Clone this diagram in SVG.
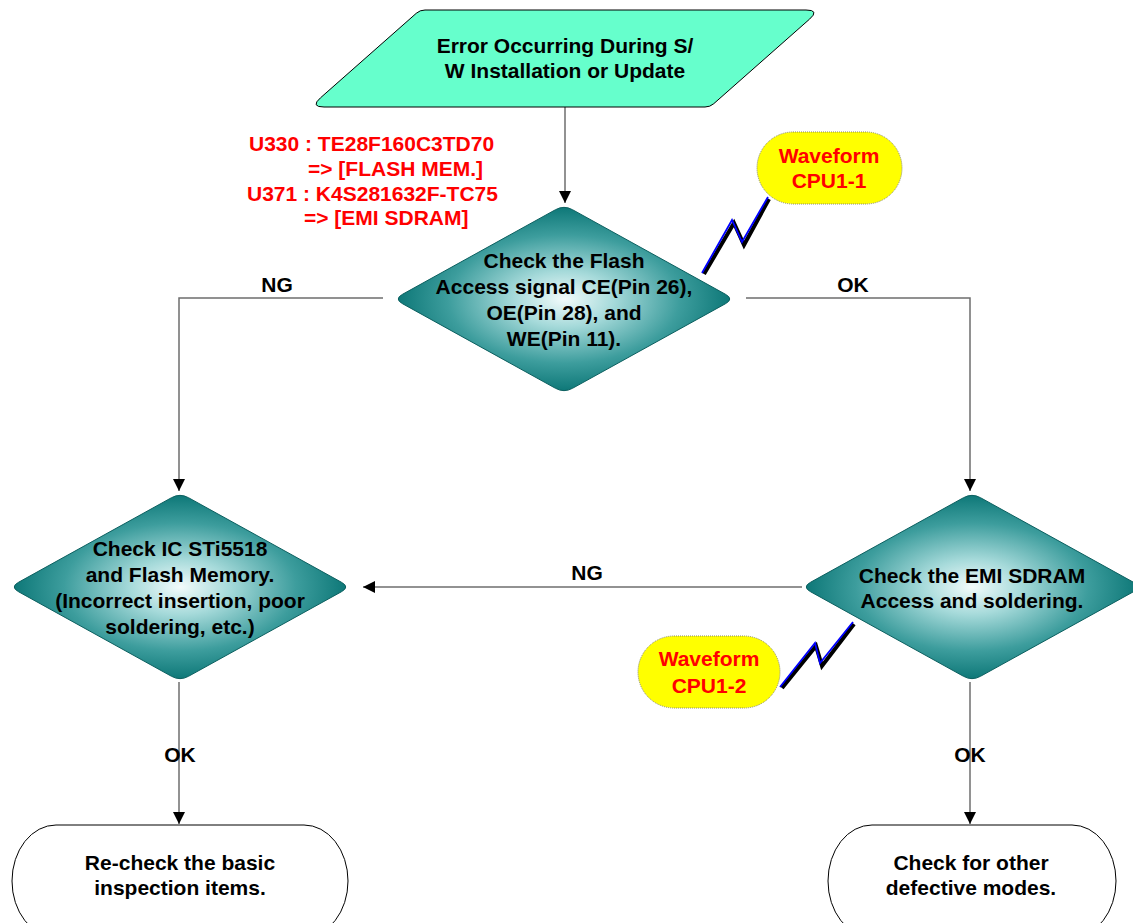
<svg xmlns="http://www.w3.org/2000/svg" width="1133" height="923" viewBox="0 0 1133 923">
  <defs>
    <radialGradient id="tealGlow" cx="50%" cy="50%" r="50%">
      <stop offset="0" stop-color="#f2fbfb"/>
      <stop offset="0.3" stop-color="#a6dada"/>
      <stop offset="0.7" stop-color="#3d9d9d"/>
      <stop offset="1" stop-color="#0e7878"/>
    </radialGradient>
    <marker id="arrowBig" viewBox="0 0 10 10" refX="10" refY="5" markerWidth="14" markerHeight="12" markerUnits="userSpaceOnUse" orient="auto">
      <path d="M0,0 L10,5 L0,10 Z" fill="#000"/>
    </marker>
  </defs>
  <style>
    .lbl { font-family: "Liberation Sans", Arial, sans-serif; font-weight: bold; font-size: 21px; fill: #000; text-anchor: middle; }
    .red { font-family: "Liberation Sans", Arial, sans-serif; font-weight: bold; font-size: 21px; fill: #ff0000; }
    .redc { text-anchor: middle; }
    .conn { fill: none; stroke: #6e6e6e; stroke-width: 1.5; }
    .diamond { fill: url(#tealGlow); stroke: #0b5f5f; stroke-width: 1; }
    .term { fill: #fff; stroke: #000; stroke-width: 1; }
    .bubble { fill: #ffff00; stroke: #8a8a60; stroke-width: 1; stroke-dasharray: 1 1; }
    .boltShadow { fill: none; stroke: #000; stroke-width: 4; stroke-linejoin: miter; }
    .bolt { fill: none; stroke: #0000ff; stroke-width: 1.8; stroke-linejoin: miter; }
  </style>

  <!-- connectors -->
  <g id="connectors">
    <path class="conn" d="M565,107 L565,203" marker-end="url(#arrowBig)"/>
    <path class="conn" d="M383,298 L179,298 L179,491" marker-end="url(#arrowBig)"/>
    <path class="conn" d="M746,298 L970,298 L970,491" marker-end="url(#arrowBig)"/>
    <path class="conn" d="M802,587 L363,587" marker-end="url(#arrowBig)"/>
    <path class="conn" d="M179,682 L179,824" marker-end="url(#arrowBig)"/>
    <path class="conn" d="M970,682 L970,824" marker-end="url(#arrowBig)"/>
    <text class="lbl" x="277" y="292">NG</text>
    <text class="lbl" x="853" y="292">OK</text>
    <text class="lbl" x="587" y="580">NG</text>
    <text class="lbl" x="180" y="762">OK</text>
    <text class="lbl" x="970" y="762">OK</text>
  </g>

  <!-- start: parallelogram -->
  <g id="start">
    <path d="M425,10 L806,10 Q820,10 809.5,19.2 L713.75,103.7 Q710,107 705,107 L324,107 Q310,107 320.5,97.8 L416.25,13.3 Q420,10 425,10 Z" fill="#66ffcc" stroke="#000" stroke-width="1"/>
    <text class="lbl" x="565" y="53">Error Occurring During S/</text>
    <text class="lbl" x="565" y="78">W Installation or Update</text>
  </g>

  <!-- part numbers note -->
  <g id="parts-note">
    <text class="red" x="249" y="151">U330 : TE28F160C3TD70</text>
    <text class="red" x="308" y="176">=&gt; [FLASH MEM.]</text>
    <text class="red" x="247" y="201">U371 : K4S281632F-TC75</text>
    <text class="red" x="304" y="225">=&gt; [EMI SDRAM]</text>
  </g>

  <!-- decision: flash access -->
  <g id="check-flash">
    <path class="diamond" d="M402.5,294.3 L555.5,209.7 Q564,205 572.5,209.7 L725.5,294.3 Q734,299 725.5,303.7 L572.5,388.3 Q564,393 555.5,388.3 L402.5,303.7 Q394,299 402.5,294.3 Z"/>
    <text class="lbl" x="564" y="268">Check the Flash</text>
    <text class="lbl" x="564" y="294">Access signal CE(Pin 26),</text>
    <text class="lbl" x="564" y="320">OE(Pin 28), and</text>
    <text class="lbl" x="564" y="346">WE(Pin 11).</text>
  </g>

  <!-- waveform callout CPU1-1 -->
  <g id="waveform-1">
    <polyline class="boltShadow" points="704,274 734,223 744,245 769,199"/>
    <polyline class="bolt" points="702,273 732,220 742,242 768,197"/>
    <rect class="bubble" x="757" y="132" width="145" height="72" rx="36" ry="36"/>
    <text class="red redc" x="829" y="163">Waveform</text>
    <text class="red redc" x="829" y="188">CPU1-1</text>
  </g>

  <!-- decision: IC / flash memory -->
  <g id="check-ic">
    <path class="diamond" d="M18.5,582.3 L171.5,497.7 Q180,493 188.5,497.7 L341.5,582.3 Q350,587 341.5,591.7 L188.5,676.3 Q180,681 171.5,676.3 L18.5,591.7 Q10,587 18.5,582.3 Z"/>
    <text class="lbl" x="180" y="556">Check IC STi5518</text>
    <text class="lbl" x="180" y="582">and Flash Memory.</text>
    <text class="lbl" x="180" y="608">(Incorrect insertion, poor</text>
    <text class="lbl" x="180" y="634">soldering, etc.)</text>
  </g>

  <!-- decision: EMI SDRAM -->
  <g id="check-sdram">
    <path class="diamond" d="M810.5,582.3 L963.5,497.7 Q972,493 980.5,497.7 L1133.5,582.3 Q1142,587 1133.5,591.7 L980.5,676.3 Q972,681 963.5,676.3 L810.5,591.7 Q802,587 810.5,582.3 Z"/>
    <text class="lbl" x="972" y="583">Check the EMI SDRAM</text>
    <text class="lbl" x="972" y="608">Access and soldering.</text>
  </g>

  <!-- waveform callout CPU1-2 -->
  <g id="waveform-2">
    <polyline class="boltShadow" points="782,688 816,646 822,666 854,624"/>
    <polyline class="bolt" points="780,687 815,643 820,663 853,622"/>
    <rect class="bubble" x="638" y="636" width="142" height="72" rx="36" ry="36"/>
    <text class="red redc" x="709" y="666">Waveform</text>
    <text class="red redc" x="709" y="693">CPU1-2</text>
  </g>

  <!-- terminal: re-check -->
  <g id="recheck">
    <rect class="term" x="12" y="825" width="336" height="112" rx="44" ry="56"/>
    <text class="lbl" x="180" y="870">Re-check the basic</text>
    <text class="lbl" x="180" y="895">inspection items.</text>
  </g>

  <!-- terminal: other modes -->
  <g id="other-modes">
    <rect class="term" x="828" y="825" width="288" height="112" rx="44" ry="56"/>
    <text class="lbl" x="971" y="870">Check for other</text>
    <text class="lbl" x="971" y="895">defective modes.</text>
  </g>
</svg>
